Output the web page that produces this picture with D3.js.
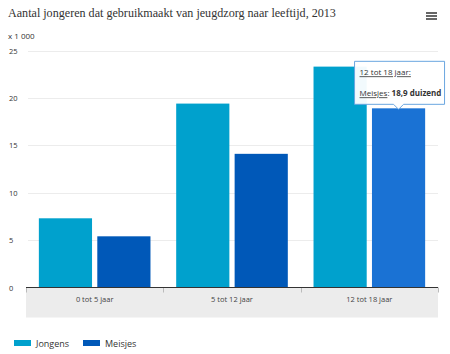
<!DOCTYPE html>
<html lang="nl">
<head>
<meta charset="UTF-8">
<title>Jeugdzorg naar leeftijd</title>
<script src="https://d3js.org/d3.v7.min.js"></script>
<style>
  body { margin: 0; background: #fff; }
  svg text { font-family: "Open Sans", "DejaVu Sans", sans-serif; }
  svg text.title { font-family: "Liberation Serif", serif; }
</style>
</head>
<body>
<div id="chart"></div>
<script>
// data
const categories = ["0 tot 5 jaar", "5 tot 12 jaar", "12 tot 18 jaar"];
const seriesNames = ["Jongens", "Meisjes"];
const jongens = [7.3, 19.4, 23.3];
const meisjes = [5.4, 14.1, 18.9];
const yTicks = [0, 5, 10, 15, 20, 25];
const colors = ["#00a1cd", "#0058b8"];
const hoverColor = "#1a72d4";

const W = 450, H = 354;
const margin = { left: 26, right: 12, top: 50.5, bottom: 66 };

const svg = d3.select("#chart").append("svg")
  .attr("width", W).attr("height", H);

const x0 = d3.scaleBand().domain(categories)
  .range([margin.left, W - margin.right]);
const x1 = d3.scaleBand().domain(seriesNames)
  .range([0, x0.bandwidth()]).paddingInner(0.09).paddingOuter(0.22);
const y = d3.scaleLinear().domain([0, 25])
  .range([H - margin.bottom - 0.5, margin.top]);

// title
svg.append("text").attr("class", "title")
  .attr("x", 8).attr("y", 17)
  .attr("font-size", 12.1).attr("fill", "#333")
  .text("Aantal jongeren dat gebruikmaakt van jeugdzorg naar leeftijd, 2013");

svg.append("text").attr("x", 8).attr("y", 39)
  .attr("font-size", 8).attr("fill", "#333").text("x 1 000");

// hamburger menu
[13, 16, 19].forEach(yy => {
  svg.append("rect").attr("x", 426).attr("y", yy - 1)
    .attr("width", 11).attr("height", 2).attr("fill", "#666");
});

// grid + y labels
svg.append("g").selectAll("line").data(yTicks.filter(d => d > 0)).join("line")
  .attr("x1", margin.left + 2).attr("x2", W - margin.right)
  .attr("y1", d => Math.round(y(d)) + 0.5).attr("y2", d => Math.round(y(d)) + 0.5)
  .attr("stroke", "#ececec").attr("stroke-width", 1);

svg.append("g").selectAll("text").data(yTicks).join("text")
  .attr("x", 9).attr("y", d => y(d) + 3)
  .attr("font-size", 7.5).attr("fill", "#333")
  .text(d => d);

// x axis background
const axisTop = y(0);
svg.append("rect").attr("x", margin.left).attr("y", axisTop)
  .attr("width", W - margin.right - margin.left).attr("height", 30)
  .attr("fill", "#ececec");

const xAxis = svg.append("g").attr("transform", `translate(0,${axisTop})`)
  .call(d3.axisBottom(x0).tickSize(0).tickPadding(9));
xAxis.select(".domain").remove();
xAxis.selectAll("text").attr("font-size", 7.5).attr("fill", "#444")
  .attr("font-family", "\"Open Sans\", sans-serif");

svg.append("g").selectAll("line")
  .data(categories.map(c => x0(c)).concat([x0.range()[1]]))
  .join("line")
  .attr("x1", d => Math.round(d) + 0.5).attr("x2", d => Math.round(d) + 0.5)
  .attr("y1", axisTop).attr("y2", axisTop + 5)
  .attr("stroke", "#bbb");

// bars
const rows = categories.map((c, i) => ({ cat: c, values: [jongens[i], meisjes[i]] }));
const groups = svg.append("g").selectAll("g").data(rows).join("g")
  .attr("transform", d => `translate(${x0(d.cat)},0)`);
groups.selectAll("rect")
  .data(d => d.values.map((v, j) => ({ cat: d.cat, name: seriesNames[j], v, j })))
  .join("rect")
  .attr("x", d => x1(d.name)).attr("width", x1.bandwidth())
  .attr("y", d => y(d.v)).attr("height", d => y(0) - y(d.v))
  .attr("fill", d => (d.cat === categories[2] && d.j === 1) ? hoverColor : colors[d.j]);

// axis line
svg.append("line").attr("x1", margin.left).attr("x2", W - margin.right)
  .attr("y1", axisTop).attr("y2", axisTop)
  .attr("stroke", "#333").attr("stroke-width", 1.2);

// tooltip on 12 tot 18 / Meisjes
const tipCat = categories[2];
const tipX = x0(tipCat) + x1("Meisjes") + x1.bandwidth() / 2;
const tipY = y(meisjes[2]);
const tw = 90, th = 43, tx = tipX - 44, ty = tipY - 47;
const tip = svg.append("g");
tip.append("path")
  .attr("d", `M${tx},${ty} h${tw} v${th} H${tipX + 5} l-5,5 l-5,-5 H${tx} Z`)
  .attr("fill", "#fff").attr("fill-opacity", 0.95)
  .attr("stroke", "#6aa6e0").attr("stroke-width", 1);
tip.append("text").attr("x", tx + 5).attr("y", ty + 14)
  .attr("font-size", 8).attr("fill", "#333")
  .attr("text-decoration", "underline")
  .text(tipCat + ":");
const t2 = tip.append("text").attr("x", tx + 5).attr("y", ty + 35)
  .attr("font-size", 8).attr("fill", "#333");
t2.append("tspan").attr("text-decoration", "underline").text("Meisjes");
t2.append("tspan").text(": ");
t2.append("tspan").attr("font-weight", "bold").text(meisjes[2].toString().replace(".", ",") + " duizend");

// legend
const legend = svg.append("g").selectAll("g").data(seriesNames).join("g")
  .attr("transform", (d, i) => `translate(${[14, 83][i]},${340})`);
legend.append("rect").attr("width", 17).attr("height", 6)
  .attr("fill", (d, i) => colors[i]);
legend.append("text").attr("x", 22).attr("y", 7)
  .attr("font-size", 9).attr("fill", "#333").text(d => d);
</script>
</body>
</html>
